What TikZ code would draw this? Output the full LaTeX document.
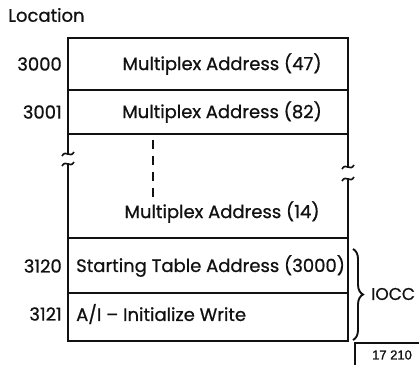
\documentclass[tikz,border=0pt]{standalone}
\usepackage{fontspec}
\setmainfont{Poppins}[FakeBold=0.8]
\newfontfamily\tagfont{Liberation Sans}[FakeBold=1.2]
\usetikzlibrary{decorations.pathreplacing}
\definecolor{Ink}{HTML}{111111}
\tikzset{
  wall/.style={draw=Ink, line width=2.2pt},
  rule/.style={draw=Ink, line width=1.6pt},
  cell/.style={font=\fontsize{18}{20}\selectfont, text=Ink, inner sep=0pt},
  addr/.style={font=\fontsize{18}{20}\selectfont, text=Ink, inner sep=0pt, anchor=east},
  tilde/.style={draw=Ink, line width=1.6pt},
  gap/.style={draw=Ink, line width=1.4pt, dash pattern=on 9pt off 7pt}
}
% wavy break mark over a wall
\newcommand{\breakmark}[2]{%
  \draw[tilde] (#1-6,#2+2) .. controls (#1-2,#2-5) and (#1+2,#2+5) .. (#1+6,#2-2);}

\begin{document}
\begin{tikzpicture}[x=1pt,y=-1pt]
  \useasboundingbox (0,0) rectangle (419,364);
  \node[cell,anchor=west] (loc) at (8,15) {Location};
  % table outline
  \draw[wall] (68,155) -- (68,38) -- (348,38) -- (348,168);
  \draw[wall] (68,163) -- (68,341) -- (348,341) -- (348,178);
  \breakmark{68}{154}
  \breakmark{68}{164}
  \breakmark{348}{167}
  \breakmark{348}{179}
  \draw[rule] (68,90) -- (348,90);
  \draw[rule] (68,134) -- (348,134);
  \draw[rule] (68,238) -- (348,238);
  \draw[rule] (68,293) -- (348,293);
  % rows
  \node[cell] (m47) at (222,64) {Multiplex Address (47)};
  \node[cell] (m82) at (222,112) {Multiplex Address (82)};
  \node[cell] (m14) at (222,212) {Multiplex Address (14)};
  \node[cell,anchor=west] (sta) at (76,266) {Starting Table Address (3000)};
  \node[cell,anchor=west] (aiw) at (76,314) {A/I -- Initialize Write};
  \coordinate (dtop) at (153,140);
  \coordinate (dbot) at (153,202);
  \draw[gap] (dtop) -- (dbot);
  % locations
  \node[addr] (a3000) at (62,64) {3000};
  \node[addr] (a3001) at (62,112) {3001};
  \node[addr] (a3120) at (62,266) {3120};
  \node[addr] (a3121) at (62,314) {3121};
  % IOCC brace
  \coordinate (btop) at (353,249);
  \coordinate (bbot) at (353,340);
  \draw[Ink, line width=1.9pt, decorate, decoration={brace,amplitude=10pt}] (btop) -- (bbot);
  \node[cell,anchor=west,font=\fontsize{17}{19}\selectfont] (iocc) at (371,294) {IOCC};
  % figure tag
  \draw[wall] (355,368) -- (355,343) -- (425,343);
  \node[font=\tagfont\fontsize{13}{15}\selectfont, text=Ink] (tag) at (392,355) {17 210};
\end{tikzpicture}
\end{document}
